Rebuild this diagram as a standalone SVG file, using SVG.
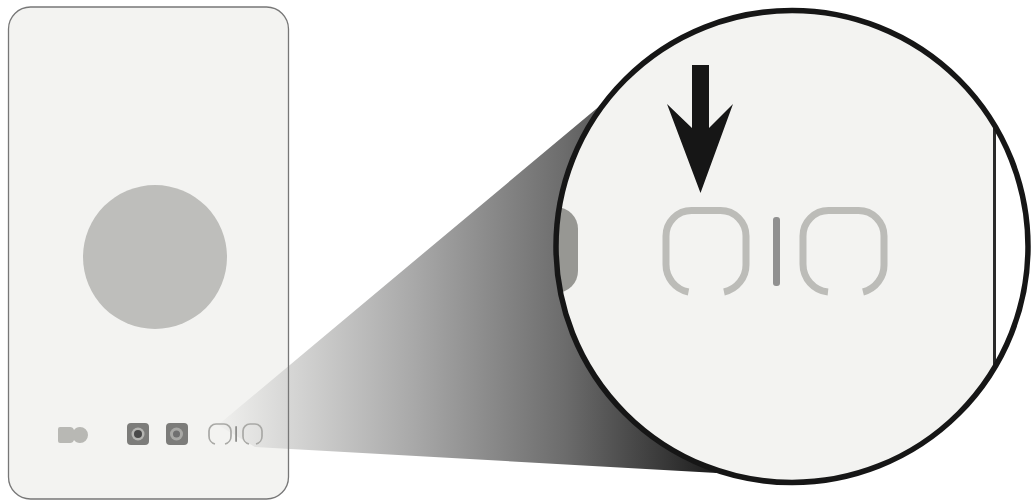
<svg xmlns="http://www.w3.org/2000/svg" width="1031" height="502" viewBox="0 0 1031 502">
<defs>
<linearGradient id="cone" gradientUnits="userSpaceOnUse" x1="215" y1="0" x2="715" y2="0">
<stop offset="0" stop-color="#f1f1ef"/>
<stop offset="0.15" stop-color="#d6d6d5"/>
<stop offset="0.4" stop-color="#a8a8a8"/>
<stop offset="0.7" stop-color="#6c6c6c"/>
<stop offset="0.9" stop-color="#383838"/>
<stop offset="1" stop-color="#1c1c1c"/>
</linearGradient>
<clipPath id="lens"><circle cx="792" cy="246.5" r="236"/></clipPath>
<filter id="soft" x="-5%" y="-5%" width="110%" height="110%"><feGaussianBlur stdDeviation="0.6"/></filter>
</defs>
<style>
.bracket{fill:none;stroke:#bcbcb8;stroke-width:7}
.small{fill:none;stroke:#a9a9a6;stroke-width:1.7}
.sq{fill:#7c7c7a}
</style>
<rect width="1031" height="502" fill="#fff"/>
<g id="card">
<rect x="8.500" y="7" width="280" height="492" rx="22" fill="#f3f3f1"/>
</g>
<g id="cone-group">
<path d="M218 425 L602 104 L640 300 L717 473 L255 447 Z" fill="url(#cone)"/>
</g>
<g id="card-outline">
<rect x="8.500" y="7" width="280" height="492" rx="22" fill="none" stroke="#777" stroke-width="1.300"/>
</g>
<g id="disc"><circle cx="155" cy="257" r="72" fill="#bebebb"/></g>
<g id="pill" filter="url(#soft)">
<path d="M60 427 H70 Q73 427 74 430 Q76 427 80 427 A8 8 0 0 1 80 443 Q76 443 74 440 Q73 443 70 443 H60 Q58 443 58 441 V429 Q58 427 60 427 Z" fill="#b8b8b4"/>
</g>
<g id="sensor-1" filter="url(#soft)">
<rect class="sq" x="127" y="423" width="22" height="22" rx="4"/>
<circle cx="138" cy="434" r="6.500" fill="#b5b5b2"/>
<circle cx="138" cy="434" r="4" fill="#4a4a4a"/>
</g>
<g id="sensor-2" filter="url(#soft)">
<rect class="sq" x="166" y="423" width="22" height="22" rx="4"/>
<circle cx="176.500" cy="434" r="6.500" fill="#a8a8a5"/>
<circle cx="176.500" cy="434" r="3.500" fill="#6f6f6f"/>
</g>
<g id="small-marks" filter="url(#soft)">
<path class="small" d="M215 444 A8 8 0 0 1 209 436 V431 A7 7 0 0 1 216 424 H224 A7 7 0 0 1 231 431 V436 A8 8 0 0 1 225 444"/>
<path class="small" d="M249 444 A8 8 0 0 1 243 436 V431 A7 7 0 0 1 250 424 H255 A7 7 0 0 1 262 431 V436 A8 8 0 0 1 256 444"/>
<rect x="235.200" y="426" width="1.800" height="16" rx="0.900" fill="#8f8f8d"/>
</g>
<g id="lens-group">
<circle cx="792" cy="246.500" r="236" fill="#fff"/>
<g clip-path="url(#lens)">
<rect x="550" y="5" width="444.500" height="485" fill="#f3f3f1"/>
<rect x="500" y="207" width="78" height="86" rx="22" fill="#979793"/>
<rect x="993" y="5" width="3" height="485" fill="#2a2a2a"/>
</g>
<circle cx="792" cy="246.500" r="236" fill="none" stroke="#161616" stroke-width="5.500"/>
</g>
<g id="magnified-left">
<path class="bracket" d="M688.500 292 A28 28 0 0 1 666 264 V236 A25.500 25.500 0 0 1 691.500 210.500 H720.500 A25.500 25.500 0 0 1 746 236 V264 A28 28 0 0 1 724 292"/>
</g>
<g id="magnified-bar">
<rect x="773" y="217" width="7" height="69" rx="3" fill="#909090"/>
</g>
<g id="magnified-right">
<path class="bracket" d="M828 292 A28 28 0 0 1 803 264 V236 A25.500 25.500 0 0 1 828.500 210.500 H858.500 A25.500 25.500 0 0 1 884 236 V264 A28 28 0 0 1 863 292"/>
</g>
<g id="arrow">
<path d="M692 65 H709 V128 L733 104 L700.500 193 L667 104 L692 128 Z" fill="#161616"/>
</g>
</svg>
